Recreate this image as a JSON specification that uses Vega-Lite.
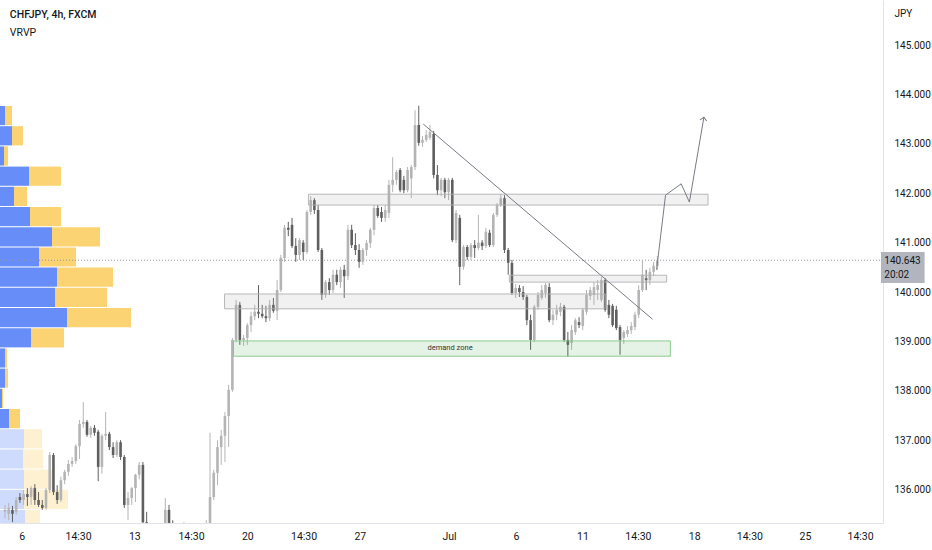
{
  "$schema": "https://vega.github.io/schema/vega-lite/v6.json",
  "width": 883,
  "height": 523,
  "autosize": {"type": "none"},
  "padding": {"left": 0, "top": 0, "right": 49, "bottom": 27},
  "background": "white",
  "config": {"view": {"stroke": null}, "font": "Roboto"},
  "datasets": {
    "profile": [
      {"lo": 143.377, "hi": 143.785, "side": "up", "v0": 0, "v1": 5, "va": true},
      {"lo": 143.377, "hi": 143.785, "side": "down", "v0": 5, "v1": 12, "va": true},
      {"lo": 142.968, "hi": 143.377, "side": "up", "v0": 0, "v1": 12, "va": true},
      {"lo": 142.968, "hi": 143.377, "side": "down", "v0": 12, "v1": 23, "va": true},
      {"lo": 142.559, "hi": 142.968, "side": "up", "v0": 0, "v1": 4, "va": true},
      {"lo": 142.559, "hi": 142.968, "side": "down", "v0": 4, "v1": 8, "va": true},
      {"lo": 142.150, "hi": 142.559, "side": "up", "v0": 0, "v1": 29, "va": true},
      {"lo": 142.150, "hi": 142.559, "side": "down", "v0": 29, "v1": 61, "va": true},
      {"lo": 141.741, "hi": 142.150, "side": "up", "v0": 0, "v1": 14, "va": true},
      {"lo": 141.741, "hi": 142.150, "side": "down", "v0": 14, "v1": 27, "va": true},
      {"lo": 141.332, "hi": 141.741, "side": "up", "v0": 0, "v1": 30, "va": true},
      {"lo": 141.332, "hi": 141.741, "side": "down", "v0": 30, "v1": 61, "va": true},
      {"lo": 140.923, "hi": 141.332, "side": "up", "v0": 0, "v1": 52, "va": true},
      {"lo": 140.923, "hi": 141.332, "side": "down", "v0": 52, "v1": 100, "va": true},
      {"lo": 140.514, "hi": 140.923, "side": "up", "v0": 0, "v1": 39, "va": true},
      {"lo": 140.514, "hi": 140.923, "side": "down", "v0": 39, "v1": 76, "va": true},
      {"lo": 140.105, "hi": 140.514, "side": "up", "v0": 0, "v1": 57, "va": true},
      {"lo": 140.105, "hi": 140.514, "side": "down", "v0": 57, "v1": 113, "va": true},
      {"lo": 139.696, "hi": 140.105, "side": "up", "v0": 0, "v1": 55, "va": true},
      {"lo": 139.696, "hi": 140.105, "side": "down", "v0": 55, "v1": 107, "va": true},
      {"lo": 139.287, "hi": 139.696, "side": "up", "v0": 0, "v1": 67, "va": true},
      {"lo": 139.287, "hi": 139.696, "side": "down", "v0": 67, "v1": 131, "va": true},
      {"lo": 138.879, "hi": 139.287, "side": "up", "v0": 0, "v1": 31, "va": true},
      {"lo": 138.879, "hi": 139.287, "side": "down", "v0": 31, "v1": 64, "va": true},
      {"lo": 138.470, "hi": 138.879, "side": "up", "v0": 0, "v1": 5, "va": true},
      {"lo": 138.470, "hi": 138.879, "side": "down", "v0": 5, "v1": 7, "va": true},
      {"lo": 138.061, "hi": 138.470, "side": "up", "v0": 0, "v1": 5, "va": true},
      {"lo": 138.061, "hi": 138.470, "side": "down", "v0": 5, "v1": 8, "va": true},
      {"lo": 137.652, "hi": 138.061, "side": "up", "v0": 0, "v1": 2, "va": true},
      {"lo": 137.652, "hi": 138.061, "side": "down", "v0": 2, "v1": 3, "va": true},
      {"lo": 137.243, "hi": 137.652, "side": "up", "v0": 0, "v1": 9, "va": true},
      {"lo": 137.243, "hi": 137.652, "side": "down", "v0": 9, "v1": 20, "va": true},
      {"lo": 136.834, "hi": 137.243, "side": "up", "v0": 0, "v1": 24, "va": false},
      {"lo": 136.834, "hi": 137.243, "side": "down", "v0": 24, "v1": 42, "va": false},
      {"lo": 136.425, "hi": 136.834, "side": "up", "v0": 0, "v1": 23, "va": false},
      {"lo": 136.425, "hi": 136.834, "side": "down", "v0": 23, "v1": 43, "va": false},
      {"lo": 136.016, "hi": 136.425, "side": "up", "v0": 0, "v1": 24, "va": false},
      {"lo": 136.016, "hi": 136.425, "side": "down", "v0": 24, "v1": 53, "va": false},
      {"lo": 135.607, "hi": 136.016, "side": "up", "v0": 0, "v1": 24, "va": false},
      {"lo": 135.607, "hi": 136.016, "side": "down", "v0": 24, "v1": 68, "va": false},
      {"lo": 135.198, "hi": 135.607, "side": "up", "v0": 0, "v1": 25, "va": false},
      {"lo": 135.198, "hi": 135.607, "side": "down", "v0": 25, "v1": 40, "va": false}
    ],
    "candles": [
      {"b":0,"o":135.55,"h":135.69,"l":135.42,"c":135.59},
      {"b":1,"o":135.51,"h":135.73,"l":135.38,"c":135.63},
      {"b":2,"o":135.59,"h":135.67,"l":135.34,"c":135.51},
      {"b":3,"o":135.55,"h":135.85,"l":135.49,"c":135.79},
      {"b":4,"o":135.85,"h":135.93,"l":135.73,"c":135.79},
      {"b":5,"o":135.79,"h":135.99,"l":135.69,"c":135.91},
      {"b":6,"o":135.91,"h":136.03,"l":135.67,"c":135.85},
      {"b":7,"o":135.85,"h":136.07,"l":135.69,"c":136.03},
      {"b":8,"o":136.03,"h":136.11,"l":135.69,"c":135.79},
      {"b":9,"o":135.79,"h":135.95,"l":135.65,"c":135.69},
      {"b":10,"o":135.69,"h":135.79,"l":135.59,"c":135.63},
      {"b":11,"o":135.63,"h":136.03,"l":135.59,"c":135.99},
      {"b":12,"o":135.99,"h":136.76,"l":135.93,"c":136.70},
      {"b":13,"o":136.70,"h":136.74,"l":135.89,"c":135.95},
      {"b":14,"o":135.95,"h":136.09,"l":135.71,"c":135.79},
      {"b":15,"o":135.79,"h":136.26,"l":135.75,"c":136.19},
      {"b":16,"o":136.19,"h":136.40,"l":136.11,"c":136.36},
      {"b":17,"o":136.36,"h":136.60,"l":136.28,"c":136.52},
      {"b":18,"o":136.52,"h":136.66,"l":136.46,"c":136.58},
      {"b":19,"o":136.58,"h":136.92,"l":136.52,"c":136.88},
      {"b":20,"o":136.88,"h":137.41,"l":136.62,"c":137.33},
      {"b":21,"o":137.33,"h":137.77,"l":137.25,"c":137.37},
      {"b":22,"o":137.37,"h":137.41,"l":137.07,"c":137.11},
      {"b":23,"o":137.11,"h":137.29,"l":137.05,"c":137.25},
      {"b":24,"o":137.25,"h":137.31,"l":137.09,"c":137.15},
      {"b":25,"o":137.17,"h":137.21,"l":136.17,"c":136.46},
      {"b":26,"o":136.46,"h":137.13,"l":136.32,"c":137.09},
      {"b":27,"o":137.09,"h":137.57,"l":137.00,"c":137.13},
      {"b":28,"o":137.13,"h":137.17,"l":136.80,"c":136.86},
      {"b":29,"o":136.86,"h":136.96,"l":136.64,"c":136.70},
      {"b":30,"o":136.70,"h":137.00,"l":136.66,"c":136.96},
      {"b":31,"o":136.96,"h":137.00,"l":136.60,"c":136.66},
      {"b":32,"o":136.66,"h":136.70,"l":135.63,"c":135.69},
      {"b":33,"o":135.69,"h":135.95,"l":135.38,"c":135.83},
      {"b":34,"o":135.83,"h":136.05,"l":135.69,"c":136.03},
      {"b":35,"o":136.03,"h":136.32,"l":135.75,"c":136.30},
      {"b":36,"o":136.30,"h":136.56,"l":136.21,"c":136.50},
      {"b":37,"o":136.50,"h":136.56,"l":135.18,"c":135.34},
      {"b":38,"o":135.34,"h":135.55,"l":134.88,"c":134.98},
      {"b":39,"o":134.98,"h":135.14,"l":134.78,"c":134.88},
      {"b":40,"o":134.88,"h":135.02,"l":134.67,"c":134.78},
      {"b":41,"o":134.78,"h":135.08,"l":134.65,"c":134.98},
      {"b":42,"o":134.98,"h":135.22,"l":134.88,"c":135.08},
      {"b":43,"o":135.08,"h":135.83,"l":135.02,"c":135.59},
      {"b":44,"o":135.59,"h":135.69,"l":135.18,"c":135.28},
      {"b":45,"o":135.28,"h":135.38,"l":134.88,"c":134.98},
      {"b":46,"o":134.98,"h":135.14,"l":134.74,"c":134.88},
      {"b":47,"o":134.88,"h":135.18,"l":134.78,"c":135.02},
      {"b":48,"o":135.02,"h":135.34,"l":134.88,"c":135.18},
      {"b":49,"o":135.18,"h":135.26,"l":134.82,"c":134.98},
      {"b":50,"o":134.98,"h":135.08,"l":134.57,"c":134.78},
      {"b":51,"o":134.78,"h":134.88,"l":134.37,"c":134.57},
      {"b":52,"o":134.57,"h":134.78,"l":134.37,"c":134.67},
      {"b":53,"o":134.67,"h":134.98,"l":134.47,"c":134.88},
      {"b":54,"o":134.88,"h":135.38,"l":134.78,"c":135.18},
      {"b":55,"o":135.18,"h":137.15,"l":135.02,"c":135.85},
      {"b":56,"o":135.85,"h":136.40,"l":135.79,"c":136.34},
      {"b":57,"o":136.34,"h":137.00,"l":136.09,"c":136.86},
      {"b":58,"o":136.86,"h":137.21,"l":136.50,"c":137.09},
      {"b":59,"o":137.09,"h":137.57,"l":136.56,"c":137.49},
      {"b":60,"o":137.49,"h":138.12,"l":136.86,"c":138.02},
      {"b":61,"o":138.02,"h":139.07,"l":137.98,"c":139.03},
      {"b":62,"o":139.03,"h":139.84,"l":138.99,"c":139.74},
      {"b":63,"o":139.74,"h":139.80,"l":138.93,"c":139.03},
      {"b":64,"o":139.03,"h":139.13,"l":138.91,"c":139.07},
      {"b":65,"o":139.07,"h":139.37,"l":138.93,"c":139.33},
      {"b":66,"o":139.33,"h":139.60,"l":139.19,"c":139.51},
      {"b":67,"o":139.51,"h":139.74,"l":139.43,"c":139.60},
      {"b":68,"o":139.60,"h":140.14,"l":139.47,"c":139.56},
      {"b":69,"o":139.56,"h":139.74,"l":139.47,"c":139.51},
      {"b":70,"o":139.51,"h":139.72,"l":139.39,"c":139.47},
      {"b":71,"o":139.47,"h":139.84,"l":139.41,"c":139.74},
      {"b":72,"o":139.74,"h":139.88,"l":139.58,"c":139.62},
      {"b":73,"o":139.62,"h":140.24,"l":139.43,"c":140.04},
      {"b":74,"o":140.04,"h":140.75,"l":140.00,"c":140.69},
      {"b":75,"o":140.69,"h":141.36,"l":140.61,"c":141.30},
      {"b":76,"o":141.30,"h":141.42,"l":141.13,"c":141.26},
      {"b":77,"o":141.36,"h":141.50,"l":140.89,"c":140.93},
      {"b":78,"o":140.93,"h":141.09,"l":140.61,"c":140.75},
      {"b":79,"o":140.75,"h":141.09,"l":140.65,"c":141.05},
      {"b":80,"o":141.00,"h":141.05,"l":140.65,"c":140.81},
      {"b":81,"o":140.81,"h":141.66,"l":140.77,"c":141.62},
      {"b":82,"o":141.62,"h":141.94,"l":141.56,"c":141.86},
      {"b":83,"o":141.86,"h":141.90,"l":141.58,"c":141.66},
      {"b":84,"o":141.66,"h":141.76,"l":140.81,"c":140.85},
      {"b":85,"o":140.85,"h":140.89,"l":139.84,"c":139.94},
      {"b":86,"o":139.94,"h":140.24,"l":139.88,"c":140.20},
      {"b":87,"o":140.20,"h":140.28,"l":139.94,"c":140.04},
      {"b":88,"o":140.04,"h":140.45,"l":139.98,"c":140.35},
      {"b":89,"o":140.35,"h":140.45,"l":140.14,"c":140.20},
      {"b":90,"o":140.20,"h":140.51,"l":140.08,"c":140.45},
      {"b":91,"o":140.45,"h":140.55,"l":139.88,"c":140.32},
      {"b":92,"o":140.32,"h":141.36,"l":140.24,"c":141.26},
      {"b":93,"o":141.26,"h":141.36,"l":140.89,"c":140.95},
      {"b":94,"o":140.95,"h":141.19,"l":140.75,"c":140.85},
      {"b":95,"o":140.85,"h":140.97,"l":140.49,"c":140.61},
      {"b":96,"o":140.61,"h":140.89,"l":140.55,"c":140.85},
      {"b":97,"o":140.85,"h":141.05,"l":140.73,"c":140.99},
      {"b":98,"o":140.99,"h":141.30,"l":140.89,"c":141.26},
      {"b":99,"o":141.26,"h":141.76,"l":141.15,"c":141.70},
      {"b":100,"o":141.70,"h":141.76,"l":141.50,"c":141.54},
      {"b":101,"o":141.62,"h":141.72,"l":141.42,"c":141.50},
      {"b":102,"o":141.50,"h":141.76,"l":141.42,"c":141.66},
      {"b":103,"o":141.60,"h":142.27,"l":141.50,"c":142.17},
      {"b":104,"o":142.17,"h":142.73,"l":142.02,"c":142.27},
      {"b":105,"o":142.27,"h":142.47,"l":142.17,"c":142.43},
      {"b":106,"o":142.47,"h":142.51,"l":142.02,"c":142.06},
      {"b":107,"o":142.27,"h":142.35,"l":142.00,"c":142.06},
      {"b":108,"o":142.06,"h":142.53,"l":142.02,"c":142.47},
      {"b":109,"o":142.30,"h":142.57,"l":141.90,"c":142.53},
      {"b":110,"o":142.53,"h":143.68,"l":142.47,"c":143.38},
      {"b":111,"o":143.38,"h":143.77,"l":142.96,"c":143.02},
      {"b":112,"o":143.02,"h":143.16,"l":142.94,"c":143.08},
      {"b":113,"o":143.08,"h":143.28,"l":143.04,"c":143.18},
      {"b":114,"o":143.12,"h":143.38,"l":143.08,"c":143.24},
      {"b":115,"o":143.20,"h":143.26,"l":142.30,"c":142.37},
      {"b":116,"o":142.37,"h":142.57,"l":141.96,"c":142.06},
      {"b":117,"o":142.06,"h":142.31,"l":141.94,"c":142.27},
      {"b":118,"o":142.27,"h":142.31,"l":141.90,"c":142.02},
      {"b":119,"o":142.02,"h":142.31,"l":141.86,"c":142.27},
      {"b":120,"o":142.27,"h":142.31,"l":141.01,"c":141.05},
      {"b":121,"o":141.05,"h":141.66,"l":140.99,"c":141.60},
      {"b":122,"o":141.50,"h":141.56,"l":140.14,"c":140.51},
      {"b":123,"o":140.51,"h":140.95,"l":140.45,"c":140.91},
      {"b":124,"o":140.91,"h":140.95,"l":140.65,"c":140.71},
      {"b":125,"o":140.71,"h":140.99,"l":140.65,"c":140.95},
      {"b":126,"o":140.95,"h":141.05,"l":140.69,"c":140.89},
      {"b":127,"o":140.89,"h":141.56,"l":140.85,"c":141.00},
      {"b":128,"o":141.00,"h":141.05,"l":140.85,"c":140.93},
      {"b":129,"o":140.93,"h":141.30,"l":140.89,"c":141.22},
      {"b":130,"o":141.20,"h":141.26,"l":140.91,"c":140.95},
      {"b":131,"o":140.95,"h":141.60,"l":140.91,"c":141.56},
      {"b":132,"o":141.56,"h":141.80,"l":141.52,"c":141.76},
      {"b":133,"o":141.76,"h":141.98,"l":141.72,"c":141.90},
      {"b":134,"o":141.90,"h":141.96,"l":140.79,"c":140.85},
      {"b":135,"o":140.85,"h":140.89,"l":140.35,"c":140.59},
      {"b":136,"o":140.59,"h":140.65,"l":139.94,"c":139.98},
      {"b":137,"o":139.98,"h":140.16,"l":139.88,"c":140.08},
      {"b":138,"o":140.08,"h":140.14,"l":139.90,"c":140.00},
      {"b":139,"o":140.00,"h":140.12,"l":139.84,"c":139.90},
      {"b":140,"o":139.90,"h":139.94,"l":139.33,"c":139.43},
      {"b":141,"o":139.43,"h":139.54,"l":138.83,"c":139.03},
      {"b":142,"o":139.03,"h":139.74,"l":138.99,"c":139.70},
      {"b":143,"o":139.70,"h":140.00,"l":139.64,"c":139.94},
      {"b":144,"o":139.88,"h":140.14,"l":139.84,"c":140.04},
      {"b":145,"o":139.98,"h":140.18,"l":139.88,"c":140.14},
      {"b":146,"o":140.10,"h":140.18,"l":139.39,"c":139.43},
      {"b":147,"o":139.43,"h":139.64,"l":139.33,"c":139.54},
      {"b":148,"o":139.54,"h":139.74,"l":139.43,"c":139.64},
      {"b":149,"o":139.60,"h":139.78,"l":139.51,"c":139.70},
      {"b":150,"o":139.70,"h":139.74,"l":138.99,"c":139.03},
      {"b":151,"o":139.03,"h":139.19,"l":138.69,"c":138.93},
      {"b":152,"o":138.97,"h":139.33,"l":138.83,"c":139.23},
      {"b":153,"o":139.19,"h":139.47,"l":139.13,"c":139.43},
      {"b":154,"o":139.39,"h":139.49,"l":139.27,"c":139.33},
      {"b":155,"o":139.31,"h":139.68,"l":139.23,"c":139.64},
      {"b":156,"o":139.60,"h":140.04,"l":139.54,"c":139.94},
      {"b":157,"o":139.92,"h":140.10,"l":139.84,"c":140.04},
      {"b":158,"o":139.94,"h":140.20,"l":139.74,"c":140.10},
      {"b":159,"o":140.04,"h":140.24,"l":139.84,"c":140.14},
      {"b":160,"o":139.84,"h":140.30,"l":139.80,"c":140.24},
      {"b":161,"o":140.24,"h":140.28,"l":139.60,"c":139.64},
      {"b":162,"o":139.74,"h":139.84,"l":139.47,"c":139.54},
      {"b":163,"o":139.72,"h":139.76,"l":139.29,"c":139.33},
      {"b":164,"o":139.64,"h":139.72,"l":139.23,"c":139.27},
      {"b":165,"o":139.29,"h":139.33,"l":138.73,"c":139.03},
      {"b":166,"o":139.07,"h":139.23,"l":138.95,"c":139.19},
      {"b":167,"o":139.15,"h":139.31,"l":139.09,"c":139.23},
      {"b":168,"o":139.23,"h":139.39,"l":139.15,"c":139.31},
      {"b":169,"o":139.29,"h":139.60,"l":139.23,"c":139.54},
      {"b":170,"o":139.54,"h":140.14,"l":139.47,"c":140.04},
      {"b":171,"o":140.04,"h":140.65,"l":140.00,"c":140.35},
      {"b":172,"o":140.28,"h":140.45,"l":140.04,"c":140.24},
      {"b":173,"o":140.24,"h":140.49,"l":140.14,"c":140.41},
      {"b":174,"o":140.41,"h":140.61,"l":140.32,"c":140.53},
      {"b":175,"o":140.53,"h":140.73,"l":140.45,"c":140.64}
    ],
    "zones": [
      {"start": 81.4, "end": 188.6, "lo": 141.76, "hi": 141.98, "kind": "level"},
      {"start": 58.9, "end": 161.0, "lo": 139.66, "hi": 139.96, "kind": "level"},
      {"start": 135.3, "end": 177.5, "lo": 140.20, "hi": 140.34, "kind": "level"},
      {"start": 61.3, "end": 178.5, "lo": 138.70, "hi": 139.01, "kind": "demand"}
    ],
    "drawings": [
      {"id": "trend", "k": 0, "b": 112.2, "p": 143.40},
      {"id": "trend", "k": 1, "b": 173.7, "p": 139.45},
      {"id": "path", "k": 0, "b": 174.8, "p": 140.45},
      {"id": "path", "k": 1, "b": 177.2, "p": 141.96},
      {"id": "path", "k": 2, "b": 181.4, "p": 142.19},
      {"id": "path", "k": 3, "b": 183.6, "p": 141.82},
      {"id": "path", "k": 4, "b": 187.5, "p": 143.54}
    ],
    "notes": [
      {"b": 119.4, "p": 138.86, "note": "demand zone"}
    ],
    "last": [{"price": 140.643, "label": "140.643", "countdown": "20:02"}]
  },
  "layer": [
    {
      "data": {"name": "profile"},
      "mark": {"type": "rect", "y2Offset": 1, "clip": true},
      "encoding": {
        "x": {"field": "v0", "type": "quantitative", "scale": {"domain": [0, 883], "nice": false, "zero": false}, "axis": null},
        "x2": {"field": "v1"},
        "y": {"field": "lo", "type": "quantitative", "scale": {"domain": [135.324, 145.911], "nice": false, "zero": false}},
        "y2": {"field": "hi"},
        "color": {"field": "side", "type": "nominal", "scale": {"domain": ["up", "down"], "range": ["#5f87f8", "#fbd16b"]}, "legend": null},
        "opacity": {"condition": {"test": "datum.va", "value": 0.95}, "value": 0.3}
      }
    },
    {
      "layer": [
        {
          "data": {"name": "last"},
          "mark": {"type": "rule", "strokeDash": [1, 2], "color": "#9598a1", "strokeWidth": 1},
          "encoding": {"y": {"field": "price", "type": "quantitative"}}
        },
        {
          "data": {"name": "candles"},
          "mark": {"type": "rule", "clip": true, "strokeWidth": 1},
          "encoding": {
            "x": {
              "field": "b", "type": "quantitative",
              "scale": {"domain": [0, 234.2], "nice": false, "zero": false},
              "axis": {
                "orient": "bottom", "title": null, "grid": false, "ticks": false,
                "domainColor": "#e0e3eb", "labelColor": "#131722", "labelFontSize": 10.5,
                "labelPadding": 8, "labelFlush": false, "labelOverlap": false,
                "values": [4.5, 19.6, 34.7, 49.9, 65, 80.1, 95.2, 119.1, 137.1, 154.9, 169.8, 184.9, 199.7, 214.6, 229.4],
                "labelExpr": "['6','14:30','13','14:30','20','14:30','27','Jul','6','11','14:30','18','14:30','25','14:30'][indexof([4.5, 19.6, 34.7, 49.9, 65, 80.1, 95.2, 119.1, 137.1, 154.9, 169.8, 184.9, 199.7, 214.6, 229.4], datum.value)]"
              }
            },
            "y": {
              "field": "l", "type": "quantitative",
              "scale": {"domain": [135.324, 145.911], "nice": false, "zero": false},
              "axis": {
                "orient": "right", "grid": false, "ticks": false,
                "domainColor": "#e0e3eb", "labelColor": "#131722", "labelFontSize": 10,
                "labelPadding": 11, "format": ".3f",
                "values": [136, 137, 138, 139, 140, 141, 142, 143, 144, 145],
                "title": "JPY", "titleAngle": 0, "titleX": 11, "titleY": 13,
                "titleAlign": "left", "titleBaseline": "middle",
                "titleFontWeight": "normal", "titleFontSize": 10, "titleColor": "#131722"
              }
            },
            "y2": {"field": "h"},
            "color": {"condition": {"test": "datum.c >= datum.o", "value": "#b4b4b4"}, "value": "#5f5f5f"}
          }
        },
        {
          "data": {"name": "candles"},
          "mark": {"type": "bar", "clip": true, "width": 2.6},
          "encoding": {
            "x": {"field": "b", "type": "quantitative"},
            "y": {"field": "o", "type": "quantitative"},
            "y2": {"field": "c"},
            "color": {"condition": {"test": "datum.c >= datum.o", "value": "#b4b4b4"}, "value": "#5f5f5f"}
          }
        },
        {
          "data": {"name": "zones"},
          "mark": {"type": "rect", "strokeWidth": 1},
          "encoding": {
            "x": {"field": "start", "type": "quantitative"},
            "x2": {"field": "end"},
            "y": {"field": "lo", "type": "quantitative"},
            "y2": {"field": "hi"},
            "fill": {"condition": {"test": "datum.kind == 'demand'", "value": "#4caf50"}, "value": "#9e9e9e"},
            "fillOpacity": {"value": 0.15},
            "stroke": {"condition": {"test": "datum.kind == 'demand'", "value": "#81c784"}, "value": "#b0b0b0"},
            "strokeOpacity": {"value": 0.9}
          }
        },
        {
          "data": {"name": "drawings"},
          "mark": {"type": "line", "color": "#787b86", "strokeWidth": 1},
          "encoding": {
            "x": {"field": "b", "type": "quantitative"},
            "y": {"field": "p", "type": "quantitative"},
            "detail": {"field": "id", "type": "nominal"},
            "order": {"field": "k", "type": "quantitative"}
          }
        },
        {
          "data": {"name": "drawings"},
          "transform": [{"filter": "datum.id == 'path' && datum.k == 4"}],
          "mark": {"type": "point", "shape": "M -1 1 L 0 0 L 1 1", "filled": false, "size": 45, "angle": 10, "color": "#787b86", "strokeWidth": 1, "opacity": 1},
          "encoding": {
            "x": {"field": "b", "type": "quantitative"},
            "y": {"field": "p", "type": "quantitative"}
          }
        },
        {
          "data": {"name": "notes"},
          "mark": {"type": "text", "fontSize": 7.5, "color": "#333333", "align": "center", "baseline": "middle"},
          "encoding": {
            "x": {"field": "b", "type": "quantitative"},
            "y": {"field": "p", "type": "quantitative"},
            "text": {"field": "note"}
          }
        },
        {
          "data": {"name": "last"},
          "mark": {"type": "text", "fontSize": 10.5, "fontWeight": 500, "color": "#131722", "align": "left", "baseline": "middle", "clip": false},
          "encoding": {
            "x": {"datum": 1.3, "type": "quantitative"},
            "y": {"datum": 145.61, "type": "quantitative"},
            "text": {"value": "CHFJPY, 4h, FXCM"}
          }
        },
        {
          "data": {"name": "last"},
          "mark": {"type": "text", "fontSize": 10.5, "color": "#131722", "align": "left", "baseline": "middle"},
          "encoding": {
            "x": {"datum": 1.3, "type": "quantitative"},
            "y": {"datum": 145.24, "type": "quantitative"},
            "text": {"value": "VRVP"}
          }
        },
        {
          "data": {"name": "last"},
          "mark": {"type": "rect", "clip": false, "color": "#b2b5be"},
          "encoding": {
            "x": {"datum": 235.0, "type": "quantitative"},
            "x2": {"datum": 246.7},
            "y": {"datum": 140.81, "type": "quantitative"},
            "y2": {"datum": 140.18}
          }
        },
        {
          "data": {"name": "last"},
          "mark": {"type": "text", "clip": false, "fontSize": 10, "color": "#131722", "align": "left", "baseline": "middle"},
          "encoding": {
            "x": {"datum": 235.9, "type": "quantitative"},
            "y": {"datum": 140.62, "type": "quantitative"},
            "text": {"field": "label"}
          }
        },
        {
          "data": {"name": "last"},
          "mark": {"type": "text", "clip": false, "fontSize": 10, "color": "#131722", "align": "left", "baseline": "middle"},
          "encoding": {
            "x": {"datum": 235.9, "type": "quantitative"},
            "y": {"datum": 140.34, "type": "quantitative"},
            "text": {"field": "countdown"}
          }
        }
      ]
    }
  ],
  "resolve": {"scale": {"x": "independent"}}
}
